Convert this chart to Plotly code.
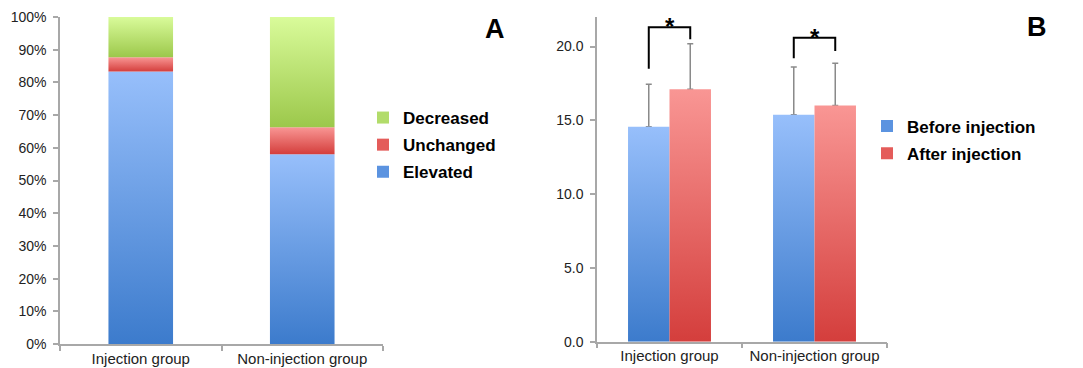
import plotly.graph_objects as go

# ---------------- data ----------------
categories = ["Injection group", "Non-injection group"]

# Panel A (percent of patients)
elevated = [83.3, 58.0]
unchanged = [4.4, 8.3]
decreased = [12.3, 33.7]
pct_ticks = list(range(0, 101, 10))
pct_labels = ["%d%%" % v for v in pct_ticks]

# Panel B (means and upper SD)
before_mean = [14.56, 15.37]
after_mean = [17.11, 16.00]
before_err = [2.89, 3.25]
after_err = [3.07, 2.87]
b_ticks = [0, 5, 10, 15, 20]

# significance brackets (panel B)
sig_left_bottom = [18.5, 19.2]
sig_right_bottom = [20.5, 19.7]
sig_top = [21.3, 20.6]
sig_label = ["*", "*"]

# ---------------- styling ----------------
FONT = "Liberation Sans, Arial, Helvetica, sans-serif"
AXC = "#a8a8a8"
TXT = "#222222"

BLUE = ("#3c7bcc", "#97bffb", "#5b93e0")
RED = ("#d43e3c", "#f99694", "#e45c5a")
GREEN = ("#9cc84b", "#d9fb9a", "#b2dc6a")

WA = 0.40          # bar width panel A
WB = 0.286         # bar width panel B

fig = go.Figure()


def grad_rect(x0, x1, y0, y1, cols, xa, ya):
    fig.add_trace(go.Scatter(
        x=[x0, x1, x1, x0, x0], y=[y0, y0, y1, y1, y0],
        mode="lines", line=dict(width=0), fill="toself",
        fillgradient=dict(type="vertical", colorscale=[[0, cols[0]], [1, cols[1]]],
                          start=y0, stop=y1),
        hoverinfo="skip", showlegend=False, xaxis=xa, yaxis=ya))


xs = list(range(len(categories)))
hide = dict(selectedpoints=[], unselected=dict(marker=dict(opacity=0)))

# ---------- Panel A (stacked via base) ----------
seriesA = [("Elevated", elevated, BLUE, 3), ("Unchanged", unchanged, RED, 2), ("Decreased", decreased, GREEN, 1)]
base = [0.0] * len(categories)
for name, vals, cols, rank in seriesA:
    fig.add_trace(go.Bar(x=xs, y=vals, base=list(base), width=WA, name=name,
                         marker=dict(color=cols[2], line=dict(width=0)),
                         xaxis="x", yaxis="y", legend="legend", legendgroup=name, legendrank=rank, **hide))
    for i, v in enumerate(vals):
        grad_rect(xs[i] - WA / 2, xs[i] + WA / 2, base[i], base[i] + v, cols, "x", "y")
        base[i] += v

# ---------- Panel B ----------
fig.add_trace(go.Bar(x=xs, y=before_mean, width=WB, offset=-WB, name="Before injection",
                     marker=dict(color=BLUE[2], line=dict(width=0)),
                     error_y=dict(type="data", array=before_err, arrayminus=[0] * len(categories),
                                  symmetric=False, color="#8a8a8a", thickness=1.5, width=3),
                     xaxis="x2", yaxis="y2", legend="legend2", legendgroup="before", legendrank=1, **hide))
fig.add_trace(go.Bar(x=xs, y=after_mean, width=WB, offset=0, name="After injection",
                     marker=dict(color=RED[2], line=dict(width=0)),
                     error_y=dict(type="data", array=after_err, arrayminus=[0] * len(categories),
                                  symmetric=False, color="#8a8a8a", thickness=1.5, width=3),
                     xaxis="x2", yaxis="y2", legend="legend2", legendgroup="after", legendrank=2, **hide))
for i in xs:
    grad_rect(xs[i] - WB, xs[i], 0, before_mean[i], BLUE, "x2", "y2")
    grad_rect(xs[i], xs[i] + WB, 0, after_mean[i], RED, "x2", "y2")

# brackets + stars
for i in xs:
    xl, xr = xs[i] - WB / 2, xs[i] + WB / 2
    fig.add_trace(go.Scatter(x=[xl, xl, xr, xr], y=[sig_left_bottom[i], sig_top[i], sig_top[i], sig_right_bottom[i]],
                             mode="lines", line=dict(color="black", width=2), hoverinfo="skip",
                             showlegend=False, xaxis="x2", yaxis="y2"))
    fig.add_annotation(x=xs[i], y=sig_top[i], xref="x2", yref="y2", text="<b>%s</b>" % sig_label[i],
                       showarrow=False, yanchor="bottom", yshift=-15,
                       font=dict(family=FONT, size=24, color="black"))

# panel letters
fig.add_annotation(x=495 / 1083, y=1 - 29 / 368, xref="paper", yref="paper", text="<b>A</b>",
                   showarrow=False, xanchor="center", yanchor="middle",
                   font=dict(family=FONT, size=27, color="black"))
fig.add_annotation(x=1037 / 1083, y=1 - 27 / 368, xref="paper", yref="paper", text="<b>B</b>",
                   showarrow=False, xanchor="center", yanchor="middle",
                   font=dict(family=FONT, size=27, color="black"))

tickfont = dict(family=FONT, size=14, color=TXT)
catfont = dict(family=FONT, size=15, color=TXT)

common_x = dict(range=[-0.5, 1.5], tickmode="array", tickvals=xs, ticktext=categories, ticks="",
                showgrid=False, zeroline=False, showline=True, linecolor=AXC, linewidth=1.5,
                tickfont=catfont, automargin=False,
                minor=dict(tickvals=[-0.5, 0.5, 1.5], ticks="outside", ticklen=5, tickcolor=AXC, tickwidth=1.5),
                fixedrange=True)
common_y = dict(showgrid=False, zeroline=False, showline=True, linecolor=AXC, linewidth=1.5,
                ticks="outside", ticklen=5, tickcolor=AXC, tickwidth=1.5, tickfont=tickfont,
                ticklabelstandoff=4, automargin=False, fixedrange=True, tickmode="array")

legfont = dict(family=FONT, size=17, color="black", weight="bold")

fig.update_layout(
    template="none",
    width=1083, height=368,
    margin=dict(l=0, r=0, t=0, b=0, autoexpand=False),
    paper_bgcolor="white", plot_bgcolor="white",
    barmode="overlay",
    showlegend=True,
    font=dict(family=FONT, color=TXT),
    xaxis=dict(domain=[60 / 1083, 383 / 1083], anchor="y", **common_x),
    yaxis=dict(domain=[(368 - 344) / 368, (368 - 17) / 368], anchor="x", range=[0, 100],
               tickvals=pct_ticks, ticktext=pct_labels, **common_y),
    xaxis2=dict(domain=[597 / 1083, 887 / 1083], anchor="y2", **common_x),
    yaxis2=dict(domain=[(368 - 341.7) / 368, (368 - 17) / 368], anchor="x2", range=[0, 22],
                tickvals=b_ticks, ticktext=["%.1f" % v for v in b_ticks], **common_y),
    legend=dict(x=363 / 1083, y=1 - 145 / 368, xanchor="left", yanchor="middle",
                traceorder="grouped", tracegroupgap=2, font=legfont,
                bgcolor="rgba(0,0,0,0)", itemclick=False, itemdoubleclick=False),
    legend2=dict(x=867 / 1083, y=1 - 140 / 368, xanchor="left", yanchor="middle",
                 traceorder="grouped", tracegroupgap=2, font=legfont,
                 bgcolor="rgba(0,0,0,0)", itemclick=False, itemdoubleclick=False),
)

fig.write_html("out.html", config={"displayModeBar": False, "staticPlot": False},
               post_script="document.body.style.margin='0';document.body.style.padding='0';")
